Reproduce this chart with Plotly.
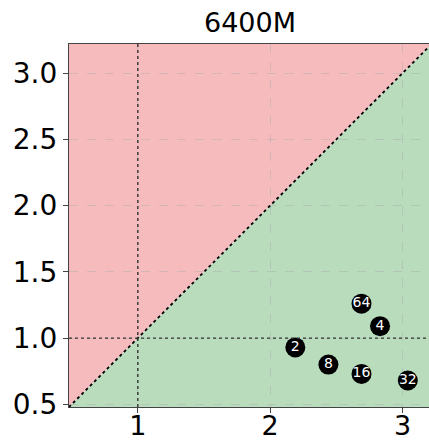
import plotly.graph_objects as go

labels = ["2", "4", "8", "16", "32", "64"]
xs = [2.19, 2.83, 2.44, 2.69, 3.04, 2.69]
ys = [0.93, 1.09, 0.80, 0.73, 0.68, 1.26]
xticks = [1, 2, 3]
yticks = [0.5, 1.0, 1.5, 2.0, 2.5, 3.0]
title = "6400M"

lo = 0.48
xhi = 3.20
yhi = 3.22
big = 5

fig = go.Figure()
fig.add_shape(type="path", xref="x", yref="y", layer="below",
              path=f"M {lo-big},{lo-big} L {big},{big} L {lo-big},{big} Z",
              fillcolor="#f6bcbd", line=dict(width=0))
fig.add_shape(type="path", xref="x", yref="y", layer="below",
              path=f"M {lo-big},{lo-big} L {big},{big} L {big},{lo-big} Z",
              fillcolor="#b9dcbd", line=dict(width=0))
fig.add_trace(go.Scatter(x=[lo - big, big], y=[lo - big, big], mode="lines",
                         line=dict(color="black", width=1.8, dash="dot"),
                         hoverinfo="skip", showlegend=False))
fig.add_shape(type="line", xref="x", yref="paper", x0=1, x1=1, y0=0, y1=1,
              line=dict(color="#333", width=1.4, dash="dot"))
fig.add_shape(type="line", xref="paper", yref="y", x0=0, x1=1, y0=1, y1=1,
              line=dict(color="#333", width=1.4, dash="dot"))
fig.add_trace(go.Scatter(x=xs, y=ys, mode="markers+text", text=labels,
                         textposition="middle center",
                         textfont=dict(color="white", size=14, family="DejaVu Sans"),
                         marker=dict(color="black", size=20),
                         showlegend=False))

fig.update_layout(
    width=429, height=441,
    margin=dict(l=69, r=0, t=44, b=34),
    paper_bgcolor="white", plot_bgcolor="white",
    font=dict(family="DejaVu Sans", color="black", size=27),
    title=dict(text=title, x=250 / 429, xanchor="center", y=1 - 23 / 441,
               yanchor="middle", font=dict(size=27)),
    xaxis=dict(range=[lo, xhi], tickvals=xticks, ticktext=[str(v) for v in xticks],
               showgrid=True, gridcolor="rgba(170,170,170,0.45)", griddash="dash",
               gridwidth=1, zeroline=False, showline=True, linecolor="#444",
               linewidth=1.2, mirror=True, ticks="outside", ticklen=5,
               tickcolor="#444", layer="above traces", automargin=False,
               ticklabelstandoff=-11),
    yaxis=dict(range=[lo, yhi], tickvals=yticks,
               ticktext=[f"{v:.1f}" for v in yticks],
               showgrid=True, gridcolor="rgba(170,170,170,0.45)", griddash="dash",
               gridwidth=1, zeroline=False, showline=True, linecolor="#444",
               linewidth=1.2, mirror=True, ticks="outside", ticklen=5,
               tickcolor="#444", layer="above traces", automargin=False,
               tickfont=dict(size=28)),
)
fig.write_html("out.html", config={"displayModeBar": False},
               post_script="document.body.style.margin='0';document.body.style.overflow='hidden';")
